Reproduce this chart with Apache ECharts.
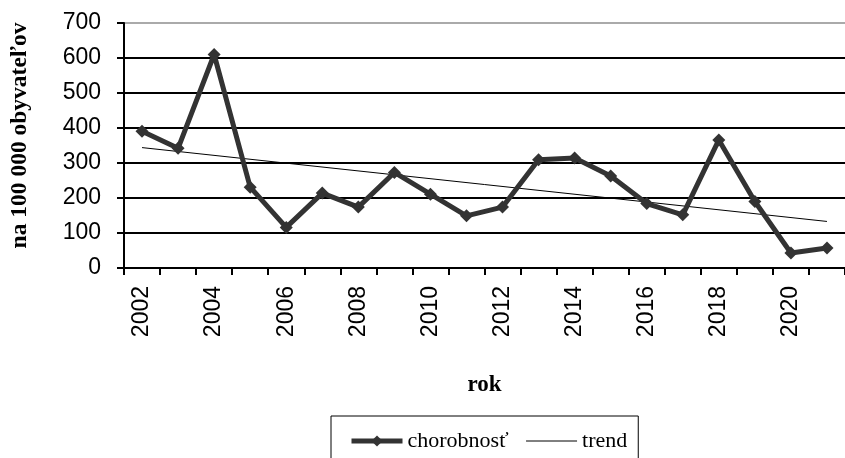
<!DOCTYPE html>
<html><head><meta charset="utf-8">
<script src="https://cdn.jsdelivr.net/npm/echarts@6/dist/echarts.min.js"></script>
<style>html,body{margin:0;padding:0;background:#fff}#c{width:845px;height:458px}</style>
</head><body><div id="c"></div>
<script>
const years = ['2002','2003','2004','2005','2006','2007','2008','2009','2010','2011','2012','2013','2014','2015','2016','2017','2018','2019','2020','2021'];
const incidence = [391,342,610,231,116,214,174,273,211,149,174,309,314,263,184,152,366,190,43,57];
const trend = [344,null,null,null,null,null,null,null,null,null,null,null,null,null,null,null,null,null,null,133];
const yTicks = {min:0, max:700, interval:100};

const chart = echarts.init(document.getElementById('c'), null, {renderer:'canvas'});
chart.setOption({
  animation:false,
  backgroundColor:'#fff',
  grid:{left:122, top:23, bottom:190, right:-11, containLabel:false},
  legend:{
    left:331, top:416,
    padding:[14,11,30,18],
    itemGap:17, itemWidth:51, itemHeight:14,
    borderColor:'#000', borderWidth:1,
    textStyle:{fontFamily:'Liberation Serif', fontSize:22, color:'#000'},
    data:[
      {name:'chorobnosť', itemStyle:{color:'#333'}, lineStyle:{color:'#333', width:5}},
      {name:'trend', itemStyle:{color:'rgba(0,0,0,0)', opacity:0, borderWidth:0}, lineStyle:{color:'#000', width:1}}
    ]
  },
  xAxis:{
    type:'category', data:years, boundaryGap:true,
    name:'rok', nameLocation:'middle', nameGap:106,
    nameTextStyle:{fontFamily:'Liberation Serif', fontWeight:'bold', fontSize:23, color:'#000'},
    axisLine:{lineStyle:{color:'#000', width:2}},
    axisTick:{show:true, interval:0, length:7, lineStyle:{color:'#000', width:2}},
    axisLabel:{interval:1, rotate:90, margin:18, fontFamily:'Liberation Sans', fontSize:23, color:'#000'}
  },
  yAxis:{
    type:'value', min:yTicks.min, max:yTicks.max, interval:yTicks.interval,
    name:'na 100 000 obyvateľov', nameLocation:'middle', nameGap:92, nameRotate:90,
    nameTextStyle:{fontFamily:'Liberation Serif', fontWeight:'bold', fontSize:23.5, color:'#000', padding:[0,0,0,20]},
    axisLine:{show:true, lineStyle:{color:'#000', width:2}},
    axisTick:{show:true, length:7, lineStyle:{color:'#000', width:2}},
    axisLabel:{margin:23, fontFamily:'Liberation Sans', fontSize:23, color:'#000'},
    splitLine:{show:true, lineStyle:{color:['#000','#000','#000','#000','#000','#000','#000','#aaa'], width:2}}
  },
  series:[
    {name:'chorobnosť', type:'line', data:incidence, symbol:'diamond', symbolSize:13,
     itemStyle:{color:'#333'}, lineStyle:{color:'#333', width:5}, z:3},
    {name:'trend', type:'line', data:trend, connectNulls:true, symbol:'none',
     itemStyle:{color:'#000'}, lineStyle:{color:'#000', width:1}, z:2}
  ]
});
</script></body></html>
